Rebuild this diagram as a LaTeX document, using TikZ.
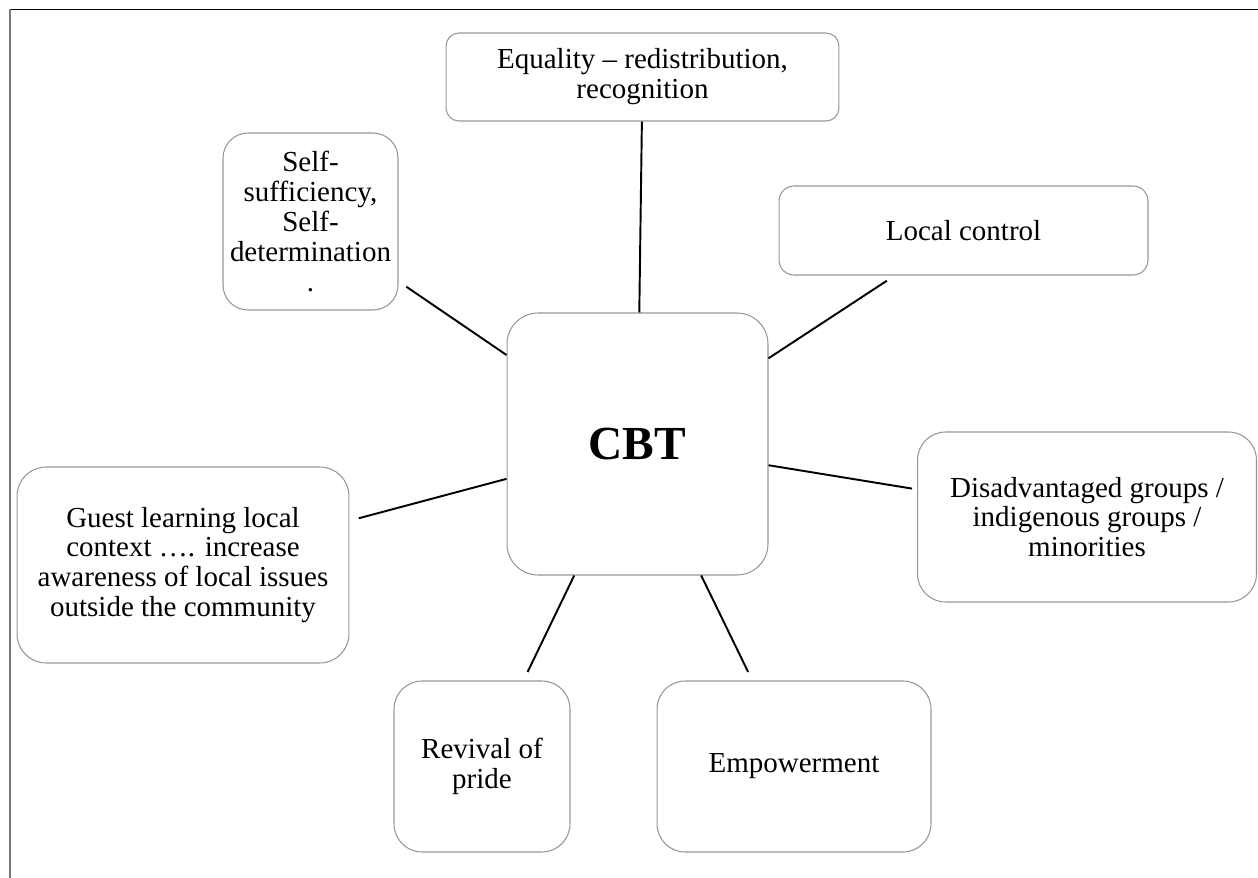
\documentclass[tikz,border=0pt]{standalone}
\usepackage{fontspec}
\setmainfont{Liberation Serif}
\usepackage{xcolor}
\definecolor{boxgray}{RGB}{150,150,150}
\definecolor{framegray}{RGB}{120,120,120}

\begin{document}
\begin{tikzpicture}[
    x=0.02cm, y=-0.02cm,
    box/.style={rectangle, draw=boxgray, line width=0.6pt, rounded corners=#1, align=center, inner sep=2pt, font=\fontsize{16.5}{17}\selectfont},
    box/.default=0.5cm,
    link/.style={line width=1.1pt, black, shorten >=0.19cm}
]
\useasboundingbox (0,0) rectangle (1258,878);

% Frame
\draw[black, line width=0.8pt] (10,9.5) -- (1258,9.5);
\draw[framegray, line width=1.2pt] (10,9.5) -- (10,878);

% Center
\node[box=0.62cm, minimum width=5.22cm, minimum height=5.24cm, font=\fontsize{27}{30}\selectfont\bfseries] (cbt) at (637.5,444) {CBT};

% Top row
\node[box=0.26cm, minimum width=7.86cm, minimum height=1.76cm] (equality) at (642.5,77) {Equality – redistribution,\\recognition};
\node[box=0.5cm, minimum width=3.5cm, minimum height=3.54cm] (selfsuff) at (310.5,221.5) {Self-\\sufficiency,\\Self-\\determination\\.};
\node[box=0.3cm, minimum width=7.38cm, minimum height=1.78cm] (local) at (963.5,230.5) {Local control};

% Middle row
\node[box=0.58cm, minimum width=6.64cm, minimum height=3.92cm] (guest) at (183,565) {Guest learning local\\context …. increase\\awareness of local issues\\outside the community};
\node[box=0.56cm, minimum width=6.78cm, minimum height=3.4cm] (disadv) at (1087,517) {Disadvantaged groups /\\indigenous groups /\\minorities};

% Bottom row
\node[box=0.56cm, minimum width=3.52cm, minimum height=3.42cm] (revival) at (482,766.5) {Revival of\\pride};
\node[box=0.56cm, minimum width=5.48cm, minimum height=3.42cm] (empower) at (794,766.5) {Empowerment};

% Links
\draw[link, shorten >=0pt] (cbt) -- (equality);
\draw[link] (cbt) -- (selfsuff);
\draw[link] (cbt) -- (local);
\draw[link, shorten >=0.1cm] (cbt) -- (disadv);
\draw[link] (cbt) -- (guest);
\draw[link] (cbt) -- (revival);
\draw[link] (cbt) -- (empower);

\end{tikzpicture}
\end{document}
